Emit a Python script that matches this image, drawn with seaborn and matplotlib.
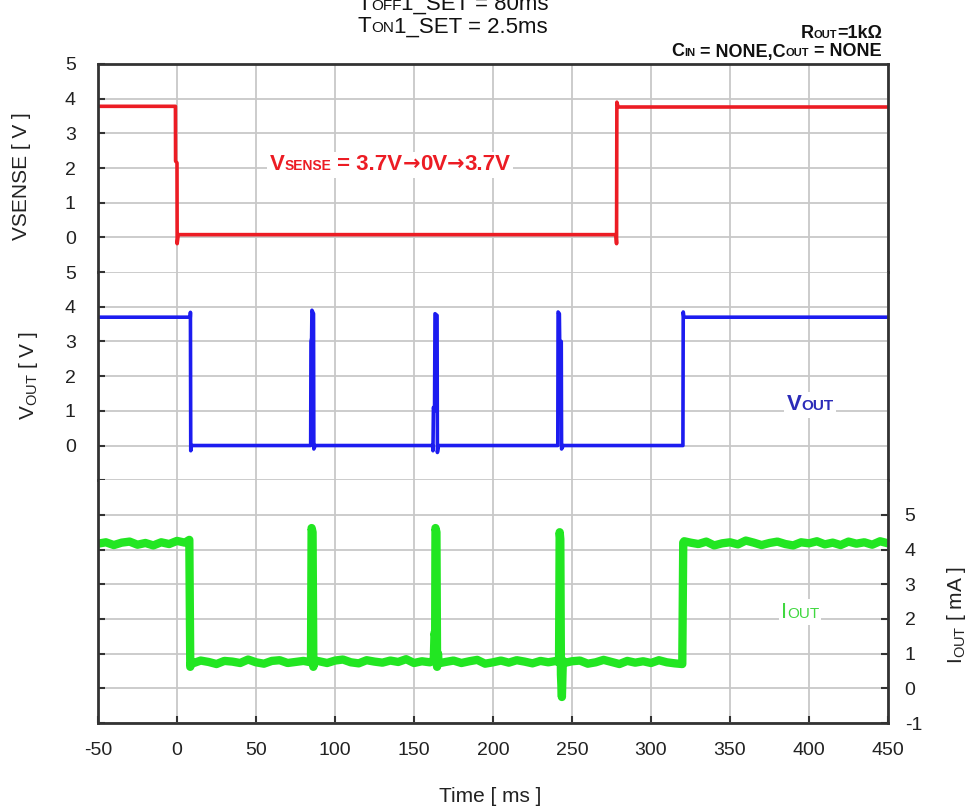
import numpy as np
import pandas as pd
import seaborn as sns
import matplotlib.pyplot as plt
from matplotlib.offsetbox import TextArea, HPacker, AnnotationBbox

# ---------------- data ----------------
vsense_t = [-50, -1.0, -0.9, 0.0, 0.1, 0.8, 277.8, 278.2, 278.4, 279.2, 450]
vsense_v = [3.78, 3.78, 2.2, 2.15, -0.18, 0.08, 0.08, -0.18, 3.9, 3.76, 3.76]

vout_t = [-50, 8.4, 8.5, 8.7, 9.2,
          84.6, 84.8, 85.2, 85.4, 86.4, 86.6, 87.5,
          161.8, 162.0, 162.3, 163.0, 163.3, 164.6, 164.8, 165.5,
          241.0, 241.2, 242.0, 242.2, 243.2, 243.4, 244.5,
          320.2, 320.4, 320.8, 450]
vout_v = [3.7, 3.7, 3.84, -0.15, 0.0,
          0.0, 3.0, 3.1, 3.9, 3.8, -0.1, 0.0,
          0.0, -0.15, 1.1, 1.0, 3.8, 3.75, -0.2, 0.0,
          0.0, 3.85, 3.8, 3.0, 3.0, -0.1, 0.0,
          0.0, 3.85, 3.7, 3.7]

iout_t = ([-50, -45, -40, -35, -30, -25, -20, -15, -10, -5, 0, 5, 7.8, 8.4, 9]
          + [10, 15, 20, 25, 30, 35, 40, 45, 50, 55, 60, 65, 70, 75, 80]
          + [84.8, 85.2, 85.8, 86.3, 87]
          + [90, 95, 100, 105, 110, 115, 120, 125, 130, 135, 140, 145, 150, 155, 160]
          + [162.5, 163.0, 163.4, 163.6, 164.2, 164.6, 165.2, 165.6]
          + [170, 175, 180, 185, 190, 195, 200, 205, 210, 215, 220, 225, 230, 235, 240]
          + [241.8, 242.2, 242.6, 243.0, 243.6, 244.2]
          + [245, 250, 255, 260, 265, 270, 275, 280, 285, 290, 295, 300, 305, 310, 315]
          + [319.8, 320.4, 321]
          + [325, 330, 335, 340, 345, 350, 355, 360, 365, 370, 375, 380, 385, 390,
             395, 400, 405, 410, 415, 420, 425, 430, 435, 440, 445, 450])
iout_v = ([4.17, 4.21, 4.13, 4.2, 4.23, 4.14, 4.19, 4.12, 4.21, 4.16, 4.25, 4.2, 4.28, 0.62, 0.75]
          + [0.72, 0.8, 0.76, 0.7, 0.79, 0.77, 0.73, 0.83, 0.75, 0.71, 0.79, 0.81, 0.73, 0.76, 0.79]
          + [0.75, 4.62, 4.5, 0.62, 0.8]
          + [0.78, 0.73, 0.8, 0.83, 0.75, 0.72, 0.81, 0.77, 0.74, 0.8, 0.76, 0.84, 0.73, 0.78, 0.75]
          + [0.8, 1.6, 1.5, 4.62, 4.5, 0.62, 1.0, 0.72]
          + [0.76, 0.8, 0.73, 0.78, 0.82, 0.71, 0.75, 0.8, 0.74, 0.81, 0.77, 0.72, 0.79, 0.75, 0.79]
          + [0.75, 4.5, 4.3, 0.4, -0.25, 0.8]
          + [0.73, 0.78, 0.8, 0.71, 0.75, 0.82, 0.76, 0.7, 0.79, 0.74, 0.78, 0.73, 0.81, 0.75, 0.72]
          + [0.7, 4.2, 4.24]
          + [4.2, 4.16, 4.23, 4.12, 4.18, 4.21, 4.15, 4.26, 4.2, 4.13, 4.19, 4.23, 4.16,
             4.12, 4.21, 4.18, 4.24, 4.15, 4.2, 4.13, 4.23, 4.17, 4.21, 4.14, 4.24, 4.18])

x_ticks = [-50, 0, 50, 100, 150, 200, 250, 300, 350, 400, 450]
v_ticks = [0, 1, 2, 3, 4, 5]
i_ticks = [-1, 0, 1, 2, 3, 4, 5]

RED = "#ec1c24"
BLUE = "#1c1cf0"
GREEN = "#22e622"
GRID = "#c8c8c8"
FRAME = "#333333"

# ---------------- figure ----------------
sns.set_theme(style="white")
FAM = ["Liberation Sans Narrow", "Liberation Sans", "DejaVu Sans"]
plt.rcParams["font.family"] = FAM
plt.rcParams["mathtext.fontset"] = "custom"
plt.rcParams["axes.unicode_minus"] = False

W, H = 977, 809
fig = plt.figure(figsize=(W / 100, H / 100), dpi=100)
gs = fig.add_gridspec(3, 1, height_ratios=[6, 6, 7], hspace=0,
                      left=98 / W, right=888 / W, top=1 - 64 / H, bottom=1 - 723 / H)
ax1 = fig.add_subplot(gs[0])
ax2 = fig.add_subplot(gs[1], sharex=ax1)
ax3 = fig.add_subplot(gs[2], sharex=ax1)

df1 = pd.DataFrame({"t": vsense_t, "v": vsense_v})
df2 = pd.DataFrame({"t": vout_t, "v": vout_v})
df3 = pd.DataFrame({"t": iout_t, "v": iout_v})

sns.lineplot(data=df3, x="t", y="v", ax=ax3, color=GREEN, lw=6,
             estimator=None, sort=False)
sns.lineplot(data=df1, x="t", y="v", ax=ax1, color=RED, lw=2.6,
             estimator=None, sort=False)
sns.lineplot(data=df2, x="t", y="v", ax=ax2, color=BLUE, lw=2.6,
             estimator=None, sort=False)

for ax in (ax1, ax2, ax3):
    ax.set_xlim(-50, 450)
    ax.set_xticks(x_ticks)
    ax.set_xlabel("")
    ax.set_ylabel("")
    ax.grid(True, color=GRID, lw=1.3)
    ax.set_axisbelow(True)
    for s in ax.spines.values():
        s.set_color(FRAME)
        s.set_linewidth(2.0)
    ax.spines["top"].set_visible(False)
    ax.spines["bottom"].set_visible(False)
    ax.tick_params(axis="both", direction="in", length=5, width=1.5, color=FRAME,
                   labelsize=14, labelcolor="#222222")
    ax.tick_params(axis="x", bottom=False, labelbottom=False)

ax1.spines["top"].set_visible(True)
ax3.spines["bottom"].set_visible(True)

ax1.set_ylim(-1, 5)
ax1.set_yticks(v_ticks)
ax1.tick_params(axis="y", left=True, pad=16)

ax2.set_ylim(-1, 5)
ax2.set_yticks([-1] + v_ticks)
ax2.set_yticklabels([""] + [str(v) for v in v_ticks])
ax2.tick_params(axis="y", left=True, pad=16)

ax3.set_ylim(-1, 6)
ax3.set_yticks(i_ticks)
ax3.set_yticklabels([str(v) for v in i_ticks])
ax3.yaxis.tick_right()
ax3.tick_params(axis="y", left=True, right=True, labelleft=False, labelright=True, pad=12)
ax3.set_xticklabels([str(v) for v in x_ticks])
ax3.tick_params(axis="x", bottom=True, labelbottom=True, pad=14)

# ---------------- text ----------------
ARROWF = ["DejaVu Sans"]

def rich(parts, x, y, ha=0.5, bg=None):
    boxes = []
    for p in parts:
        t, fs, c, w = p[:4]
        fam = p[4] if len(p) > 4 else FAM
        boxes.append(TextArea(t, textprops=dict(fontsize=fs, color=c, fontweight=w, family=fam)))
    pack = HPacker(children=boxes, align="baseline", pad=0, sep=0)
    ab = AnnotationBbox(pack, (x, H - y), xycoords="figure pixels",
                        box_alignment=(ha, 0.5), frameon=bg is not None, pad=0.15,
                        annotation_clip=False)
    if bg is not None:
        ab.patch.set_facecolor(bg)
        ab.patch.set_edgecolor("none")
    fig.add_artist(ab)

TF = ["Liberation Sans", "DejaVu Sans"]
def rich_reg(parts, x, y, ha=0.5):
    boxes = [TextArea(t, textprops=dict(fontsize=fs, color=c, family=TF))
             for (t, fs, c) in parts]
    pack = HPacker(children=boxes, align="baseline", pad=0, sep=0)
    ab = AnnotationBbox(pack, (x, H - y), xycoords="figure pixels",
                        box_alignment=(ha, 0.5), frameon=False, pad=0,
                        annotation_clip=False)
    fig.add_artist(ab)

rich_reg([("T", 16, "#111"), ("OFF", 11, "#111"), ("1_SET = 80ms", 16, "#111")], 453, 4)
rich_reg([("T", 16, "#111"), ("ON", 11, "#111"), ("1_SET = 2.5ms", 16, "#111")], 453, 27)

rich([("R", 13, "#111", "bold"), ("OUT", 8, "#111", "bold"), ("=1kΩ", 13, "#111", "bold")],
     882, 33, ha=1.0)
rich([("C", 13, "#111", "bold"), ("IN", 8, "#111", "bold"), (" = NONE,C", 13, "#111", "bold"),
      ("OUT", 8, "#111", "bold"), (" = NONE", 13, "#111", "bold")], 882, 52, ha=1.0)

rich([("V", 16, RED, "bold"), ("SENSE", 10, RED, "bold"),
      (" = 3.7V", 16, RED, "bold"), ("→", 15, RED, "bold", ARROWF),
      ("0V", 16, RED, "bold"), ("→", 15, RED, "bold", ARROWF),
      ("3.7V", 16, RED, "bold")], 390, 165, bg="white")
rich([("V", 16, "#2b2bb8", "bold"), ("OUT", 11, "#2b2bb8", "bold")], 810, 405, bg="white")
rich([("I", 16, "#40d840", "normal"), ("OUT", 11, "#40d840", "normal")], 800, 612, bg="white")

fig.text(22 / W, 1 - 176 / H, "VSENSE [ V ]", rotation=90, ha="center", va="center",
         fontsize=15, color="#222222")
fig.text(28 / W, 1 - 376 / H, r"V$_{\mathregular{OUT}}$ [ V ]", rotation=90, ha="center",
         va="center", fontsize=15, color="#222222")
fig.text(957 / W, 1 - 615 / H, r"I$_{\mathregular{OUT}}$ [ mA ]", rotation=90, ha="center",
         va="center", fontsize=15, color="#222222")
fig.text(490 / W, 1 - 797 / H, "Time [ ms ]", ha="center", va="center",
         fontsize=15, color="#222222")

fig.savefig("out.png", dpi=100)
